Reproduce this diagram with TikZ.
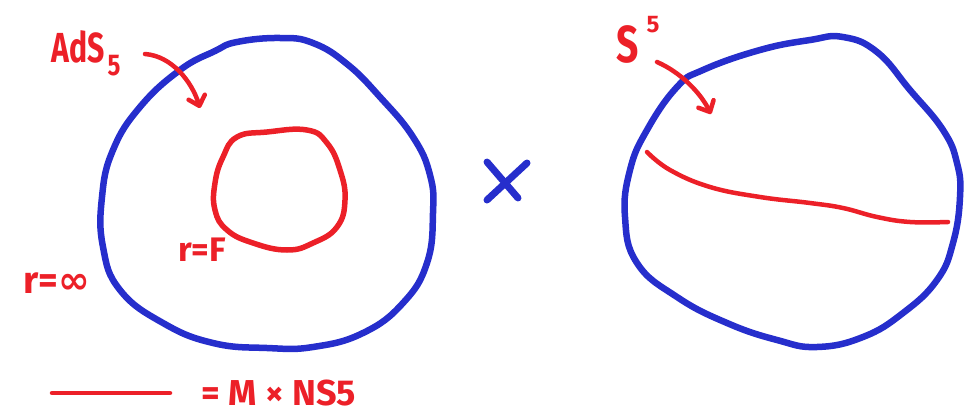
\documentclass[tikz,border=0pt]{standalone}
\usepackage{fontspec}
\setmainfont{Fira Sans}
\newfontfamily\symfont{DejaVu Sans}
\usetikzlibrary{arrows.meta}
\definecolor{inkred}{RGB}{236,32,40}
\definecolor{inkblue}{RGB}{38,46,204}
\tikzset{
  bluestroke/.style={draw=inkblue,line width=6.5pt,line cap=round,line join=round},
  redstroke/.style={draw=inkred,line width=5.5pt,line cap=round,line join=round},
  pointer/.style={draw=inkred,line width=4.5pt,line cap=round,
    -{Straight Barb[length=9pt,width=17pt,line cap=round,line join=round]}},
  lbl/.style={text=inkred,inner sep=0pt,font=\bfseries},
}
\begin{document}
\begin{tikzpicture}[x=1pt,y=-1pt]
\useasboundingbox (0,0) rectangle (974,415);
% left blue loop (AdS5)
\draw[bluestroke] plot[smooth cycle,tension=0.75] coordinates {
 (237,42) (280,38) (313,43) (347,64) (380,97) (413,137) (430,175) (433,213)
 (427,263) (403,303) (363,333) (313,347) (267,348) (213,343) (163,323)
 (120,290) (103,247) (102,197) (113,150) (140,107) (180,70) (215,51)};
% inner red loop
\draw[redstroke] plot[smooth cycle,tension=0.75] coordinates {
 (237,137) (267,132) (307,130) (327,143) (340,170) (345,200) (337,227)
 (313,243) (287,250) (253,243) (227,230) (215,210) (215,183) (223,157)};
% right blue loop (S5)
\draw[bluestroke] plot[smooth cycle,tension=0.75] coordinates {
 (843,37) (877,52) (910,90) (943,130) (957,163) (960,197) (953,243)
 (937,280) (903,313) (863,337) (817,347) (777,340) (727,323) (677,297)
 (637,263) (625,217) (630,170) (647,130) (677,87) (703,70) (760,50) (810,40)};
% red line on S5
\draw[redstroke,line width=4.5pt] plot[smooth,tension=0.7] coordinates {
 (647,152) (670,170) (710,187) (760,197) (810,203) (843,208) (877,217) (910,222) (948,222)};
% times sign
\coordinate (xa) at (487,200); \coordinate (xb) at (527,163);
\coordinate (xc) at (487,162); \coordinate (xd) at (518,198);
\draw[bluestroke,line width=7pt] (xa) -- (xb);
\draw[bluestroke,line width=7pt] (xc) -- (xd);
% labels
\node[lbl,font=\bfseries\fontsize{42}{42}\selectfont,xscale=0.72] (ads) at (78,47) {AdS};
\node[lbl,font=\bfseries\fontsize{30}{30}\selectfont,xscale=0.8] (ads5) at (114,66) {5};
\node[lbl,font=\bfseries\fontsize{52}{52}\selectfont,xscale=0.75] (s) at (628,44) {S};
\node[lbl,font=\bfseries\fontsize{24}{24}\selectfont] (s5) at (653,25) {5};
\node[lbl,font=\bfseries\fontsize{34}{34}\selectfont] (rf) at (202,250) {r=F};
\node[lbl,font=\bfseries\fontsize{38}{38}\selectfont] (rinf) at (57,283) {r={\symfont ∞}};
\node[lbl,font=\bfseries\fontsize{36}{36}\selectfont,anchor=west] (eq) at (201,393) {= M × NS5};
% pointers
\coordinate (adsend) at (200,108);
\coordinate (s5end) at (711,114);
\draw[pointer] (145,54) .. controls (172,56) and (192,82) .. (adsend);
\draw[pointer] (657,62) .. controls (680,72) and (700,92) .. (s5end);
% legend line
\coordinate (la) at (52,393); \coordinate (lb) at (170,393);
\draw[redstroke,line width=4.5pt] (la) -- (lb);
\end{tikzpicture}
\end{document}
